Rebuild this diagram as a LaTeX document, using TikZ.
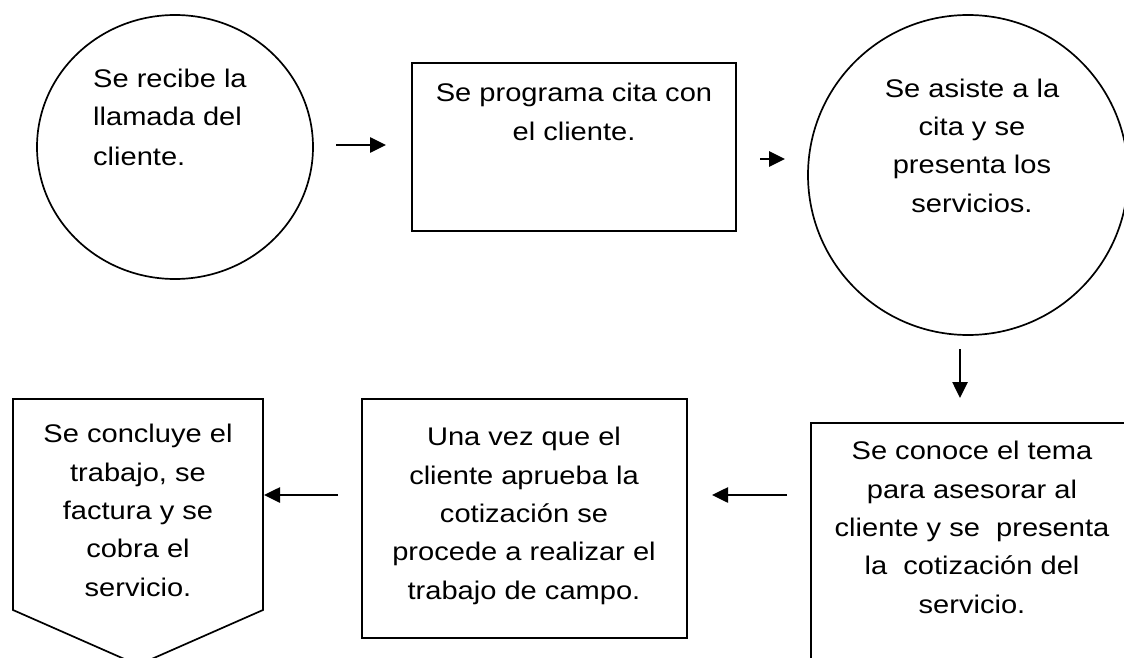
\documentclass[tikz,border=0pt]{standalone}
\usepackage{fontspec}
\setmainfont[FakeStretch=1.14]{Liberation Sans}
\usetikzlibrary{arrows.meta,shapes.geometric}
\begin{document}
\begin{tikzpicture}[x=1pt,y=-1pt,
  shapeline/.style={draw=black, line width=1.7pt},
  flowtext/.style={inner sep=0pt, font=\fontsize{25.5}{38.3}\selectfont, align=center, anchor=base},
  flowarrow/.style={line width=2.6pt, -{Triangle[length=16pt,width=15pt]}}
]
\useasboundingbox (0,0) rectangle (1124,658);
\clip (0,0) rectangle (1124,658);
\fill[white] (0,0) rectangle (1124,658);

% shapes
\node[ellipse, shapeline, minimum width=276pt, minimum height=264pt, inner sep=0pt] (c1) at (175,147) {};
\node[rectangle, shapeline, minimum width=324pt, minimum height=168pt, inner sep=0pt] (r1) at (574,147) {};
\node[circle, shapeline, minimum size=320pt, inner sep=0pt] (c2) at (968,175) {};
\node[rectangle, shapeline, minimum width=322pt, minimum height=276pt, inner sep=0pt] (r3) at (972,561) {};
\node[rectangle, shapeline, minimum width=325pt, minimum height=239pt, inner sep=0pt] (r2) at (524.5,518.5) {};
\coordinate (pnw) at (13,399);
\coordinate (pne) at (263,399);
\coordinate (pse) at (263,610);
\coordinate (ps) at (138,665);
\coordinate (psw) at (13,610);
\draw[shapeline, line join=miter] (pnw) -- (pne) -- (pse) -- (ps) -- (psw) -- cycle;

% texts (anchored at the baseline of their last line)
\node[flowtext, anchor=base west, align=left, font=\fontsize{25.5}{39}\selectfont] (t1) at (93,165) {Se recibe la\\llamada del\\cliente.};
\node[flowtext] (t2) at (574,140) {Se programa cita con\\el cliente.};
\node[flowtext] (t3) at (972,212) {Se asiste a la\\cita y se\\presenta los\\servicios.};
\node[flowtext] (t4) at (972,613) {Se conoce el tema\\para asesorar al\\cliente y se~ presenta\\la~ cotización del\\servicio.};
\node[flowtext] (t5) at (524,599) {Una vez que el\\cliente aprueba la\\cotización se\\procede a realizar el\\trabajo de campo.};
\node[flowtext] (t6) at (138,596) {Se concluye el\\trabajo, se\\factura y se\\cobra el\\servicio.};

% arrows
\coordinate (a1s) at (336,145);
\coordinate (a1e) at (386,145);
\coordinate (a2s) at (760,159);
\coordinate (a2e) at (785,159);
\coordinate (a3s) at (960,349);
\coordinate (a3e) at (960,398);
\coordinate (a4s) at (787,495);
\coordinate (a4e) at (712,495);
\coordinate (a5s) at (338,495);
\coordinate (a5e) at (264,495);
\draw[flowarrow] (a1s) -- (a1e);
\draw[flowarrow] (a2s) -- (a2e);
\draw[flowarrow] (a3s) -- (a3e);
\draw[flowarrow] (a4s) -- (a4e);
\draw[flowarrow] (a5s) -- (a5e);
\end{tikzpicture}
\end{document}
